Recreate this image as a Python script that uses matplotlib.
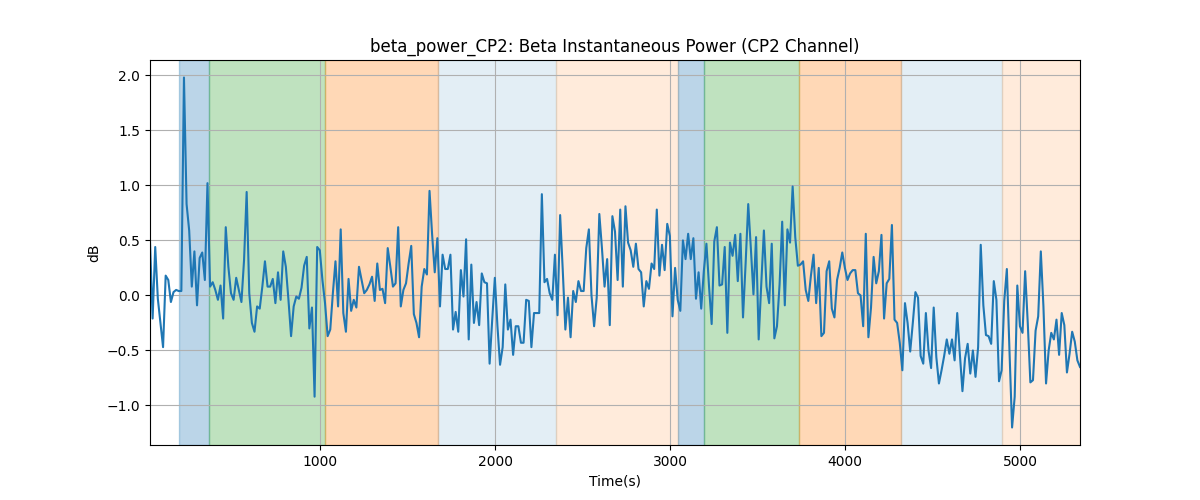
import numpy as np
import matplotlib
matplotlib.use("Agg")
import matplotlib.pyplot as plt

# beta power trace (dB), evenly sampled between t_start and t_end
t_start = 27
t_end = 5343
power_db = [
    0.49, -0.21, 0.44, -0.03, -0.25, -0.47, 0.18, 0.14, -0.06, 0.03,
    0.05, 0.04, 0.04, 1.98, 0.83, 0.59, 0.08, 0.40, -0.09, 0.34,
    0.39, 0.14, 1.02, 0.08, 0.12, 0.05, -0.04, 0.09, -0.21, 0.62,
    0.26, 0.02, -0.04, 0.16, 0.05, -0.06, 0.32, 0.94,
    0.02, -0.25, -0.33, -0.10, -0.12, 0.08, 0.31, 0.08, 0.08, 0.15,
    -0.07, 0.21, -0.04, 0.40, 0.26, -0.04, -0.37, -0.10, -0.01, -0.03,
    0.07, 0.27, 0.35, -0.30, -0.11, -0.92, 0.44, 0.41, 0.14, -0.07,
    -0.37, -0.31, 0.02, 0.31, -0.10, 0.60,
    -0.16, -0.33, 0.15, -0.14, -0.04, -0.11, 0.26, 0.14, 0.02, 0.05,
    0.10, 0.17, -0.05, 0.29, 0.05, 0.06, -0.07, 0.43, 0.26, 0.08,
    0.11, 0.62, -0.10, 0.05, 0.11, 0.29, 0.45, -0.17, -0.25, -0.38,
    0.08, 0.24, 0.19, 0.95, 0.55, 0.21, 0.52,
    -0.10, 0.37, 0.24, 0.24, 0.37, -0.31, -0.15, -0.33, 0.23, -0.01,
    0.51, -0.40, 0.28, -0.25, -0.06, -0.27, 0.20, 0.12, 0.11, -0.62,
    -0.22, 0.16, -0.28, -0.63, -0.47, 0.10, -0.31, -0.22, -0.54, -0.28,
    -0.28, -0.43, -0.43, -0.04, -0.05, -0.47,
    -0.16, -0.16, -0.16, 0.92, 0.12, 0.15, 0.02, -0.04, 0.37, -0.18,
    0.73, 0.23, -0.31, -0.02, -0.38, 0.04, -0.06, 0.13, 0.04, 0.04,
    0.43, 0.60, 0.00, -0.28, -0.02, 0.74, 0.43, 0.08, 0.33, -0.27,
    0.72, 0.58, 0.14, 0.78, 0.08, 0.81,
    0.48, 0.41, 0.26, 0.47, 0.24, 0.21, -0.10, 0.13, 0.06, 0.29,
    0.24, 0.78, 0.18, 0.46, 0.23, 0.65, 0.54, -0.19, 0.25, -0.04,
    -0.14, 0.50, 0.33, 0.56, 0.33, 0.52, -0.03, 0.21, -0.12, 0.22,
    0.47, 0.08, -0.26, 0.49, 0.62, 0.09,
    0.10, 0.44, -0.34, 0.48, 0.36, 0.55, 0.13, 0.56, -0.20, 0.29,
    0.83, 0.43, 0.01, 0.53, -0.40, 0.11, 0.59, 0.08, -0.07, 0.47,
    -0.39, -0.28, 0.10, 0.67, -0.09, 0.60, 0.48, 0.99, 0.53, 0.27,
    0.28, 0.31, 0.05, -0.05, 0.18, 0.37,
    -0.07, 0.25, -0.37, -0.34, 0.22, 0.31, -0.12, -0.20, 0.14, 0.25,
    0.39, 0.25, 0.14, 0.20, 0.23, 0.23, 0.02, 0.00, -0.28, 0.56,
    -0.38, -0.11, 0.35, 0.11, 0.22, 0.55, -0.21, 0.11, 0.15, 0.64,
    -0.22, -0.25, -0.43, -0.68, -0.07, -0.25, -0.51,
    -0.25, 0.03, -0.02, -0.55, -0.62, -0.16, -0.50, -0.66, -0.11, -0.56,
    -0.80, -0.68, -0.55, -0.40, -0.53, -0.40, -0.59, -0.16, -0.53, -0.87,
    -0.57, -0.44, -0.71, -0.50, -0.74, -0.47, 0.46, -0.09, -0.36, -0.37,
    -0.44, 0.13, -0.04, -0.78, -0.68,
    -0.05, 0.24, -0.50, -1.20, -0.92, 0.09, -0.28, -0.34, 0.22, -0.25,
    -0.79, -0.77, -0.32, -0.19, 0.40, -0.10, -0.80, -0.50, -0.34, -0.40,
    -0.22, -0.54, -0.16, -0.27, -0.70, -0.53, -0.33, -0.42, -0.59, -0.65,
]

# task phases shaded behind the trace
phase_starts = [193, 366, 1028, 1671, 2346, 3045, 3193, 3737, 4318, 4899]
phase_ends = [366, 1028, 1671, 2346, 3045, 3193, 3737, 4318, 4899, 5343]
phase_colors = ["tab:blue", "tab:green", "tab:orange", "tab:blue", "tab:orange",
                "tab:blue", "tab:green", "tab:orange", "tab:blue", "tab:orange"]
phase_alphas = [0.3, 0.3, 0.3, 0.12, 0.15, 0.3, 0.3, 0.3, 0.12, 0.15]

t = np.linspace(t_start, t_end, len(power_db))

fig, ax = plt.subplots(figsize=(12, 5), dpi=100)
for s, e, c, a in zip(phase_starts, phase_ends, phase_colors, phase_alphas):
    ax.axvspan(s, e, color=c, alpha=a)
ax.plot(t, power_db, color="tab:blue")
ax.set_xlim(t[0], t[-1])
ax.set_title("beta_power_CP2: Beta Instantaneous Power (CP2 Channel)")
ax.set_xlabel("Time(s)")
ax.set_ylabel("dB")
ax.grid(True)
plt.savefig("out.png")
